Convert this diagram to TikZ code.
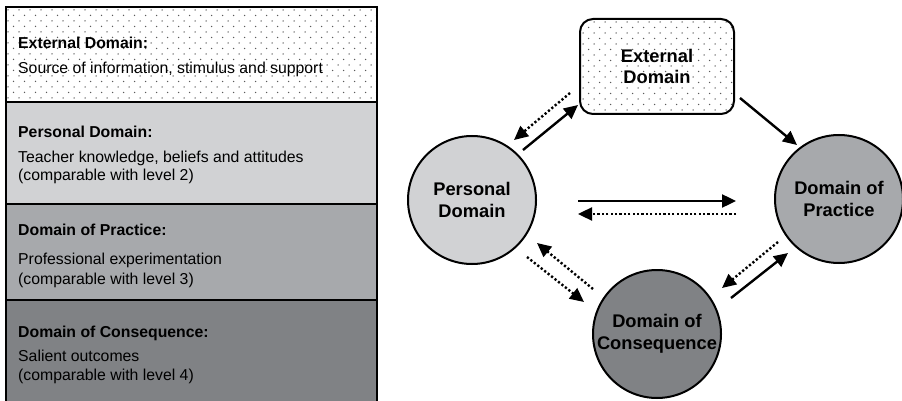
\documentclass[tikz,border=0pt]{standalone}
\usepackage{fontspec}
\setmainfont{Liberation Sans}
\usetikzlibrary{arrows.meta,calc}
\definecolor{gA}{HTML}{D1D2D4}
\definecolor{gB}{HTML}{A7A9AC}
\definecolor{gC}{HTML}{808285}
\definecolor{dotc}{HTML}{5A5A5A}
\newcommand\mydots[4]{%
  \foreach \r in {0,...,#4}{%
    \foreach \c in {0,...,#3}{%
      \fill[dotc] ({#1+11*\c+5.5*mod(\r,2)},{#2+5.5*\r}) circle (0.75);
    }%
  }%
}
\tikzset{
  lefttext/.style={anchor=base west, inner sep=0pt, font=\fontsize{15.8}{18}\selectfont},
  lefthead/.style={lefttext, font=\fontsize{15.8}{18}\selectfont\bfseries},
  domnode/.style={circle, draw, line width=2pt, minimum size=128pt, inner sep=0pt,
    align=center, font=\fontsize{18.3}{21.5}\selectfont\bfseries},
  solidarrow/.style={line width=2.4pt, -{Triangle[length=14pt,width=13pt]}},
  dotarrow/.style={line width=2.4pt, dash pattern=on 2.2pt off 2.2pt, -{Triangle[length=14pt,width=13pt]}},
  rulebar/.style={line width=2.5pt}
}
\begin{document}
\begin{tikzpicture}[x=1pt,y=-1pt]
\useasboundingbox (0,0) rectangle (902,401);
\clip (0,0) rectangle (902,401);

% ---- left panel ----
\fill[white] (6,7) rectangle (377,102);
\begin{scope}
  \clip (6,7) rectangle (377,102);
  \mydots{8}{10}{34}{17}
\end{scope}
\fill[gA] (6,102) rectangle (377,204);
\fill[gB] (6,204) rectangle (377,300);
\fill[gC] (6,300) rectangle (377,410);
\draw[rulebar] (6,410) -- (6,7) -- (377,7) -- (377,410);
\draw[rulebar] (6,102) -- (377,102);
\draw[rulebar] (6,204) -- (377,204);
\draw[rulebar] (6,300) -- (377,300);

\node[lefthead] (h1) at (18,48.5) {External Domain:};
\node[lefttext] (b1) at (18,73.5) {Source of information, stimulus and support};
\node[lefthead] (h2) at (18,137.5) {Personal Domain:};
\node[lefttext] (b2a) at (18,162.5) {Teacher knowledge, beliefs and attitudes};
\node[lefttext] (b2b) at (18,180.5) {(comparable with level 2)};
\node[lefthead] (h3) at (18,235.5) {Domain of Practice:};
\node[lefttext] (b3a) at (18,264.5) {Professional experimentation};
\node[lefttext] (b3b) at (18,284.5) {(comparable with level 3)};
\node[lefthead] (h4) at (18,337.5) {Domain of Consequence:};
\node[lefttext] (b4a) at (18,361.5) {Salient outcomes};
\node[lefttext] (b4b) at (18,380.5) {(comparable with level 4)};

% ---- right diagram ----
\node[line width=2pt, rounded corners=13pt, minimum width=152pt, minimum height=93pt,
  fill=white, align=center, font=\fontsize{18.3}{21.5}\selectfont\bfseries] (E) at (657,66.5) {External\\Domain};
\begin{scope}
  \clip[rounded corners=13pt] (E.south west) rectangle (E.north east);
  \mydots{583}{22}{14}{17}
\end{scope}
\draw[line width=2pt, rounded corners=13pt] (E.south west) rectangle (E.north east);
\node[domnode, fill=gA] (P) at (472,200) {Personal\\Domain};
\node[domnode, fill=gB] (R) at (839,199) {Domain of\\Practice};
\node[domnode, fill=gC] (C) at (657,334) {Domain of\\Consequence};

% connector end points
\coordinate (pe1) at (523,150); \coordinate (pe2) at (578,105);
\coordinate (ep1) at (570,93);  \coordinate (ep2) at (514,140);
\coordinate (er1) at (740,98);  \coordinate (er2) at (797,145);
\coordinate (pr1) at (578,201); \coordinate (pr2) at (736,201);
\coordinate (rp1) at (736,214); \coordinate (rp2) at (578,214);
\coordinate (pc1) at (527,257); \coordinate (pc2) at (584,302);
\coordinate (cp1) at (593,289); \coordinate (cp2) at (537,243);
\coordinate (cr1) at (731,298); \coordinate (cr2) at (788,253);
\coordinate (rc1) at (778,242); \coordinate (rc2) at (722,288);

\draw[solidarrow] (pe1) -- (pe2);
\draw[dotarrow] (ep1) -- (ep2);
\draw[solidarrow] (er1) -- (er2);
\draw[solidarrow] (pr1) -- (pr2);
\draw[dotarrow] (rp1) -- (rp2);
\draw[dotarrow] (pc1) -- (pc2);
\draw[dotarrow] (cp1) -- (cp2);
\draw[solidarrow] (cr1) -- (cr2);
\draw[dotarrow] (rc1) -- (rc2);
\end{tikzpicture}
\end{document}
